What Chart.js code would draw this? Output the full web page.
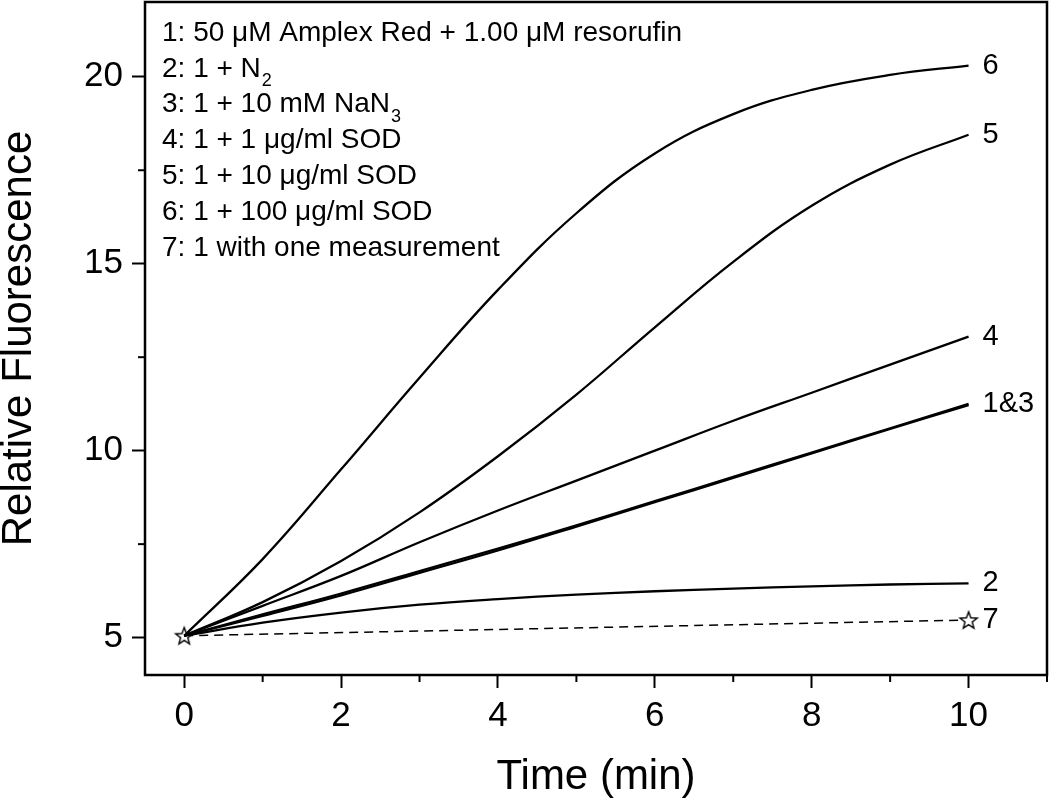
<!DOCTYPE html>
<html>
<head>
<meta charset="utf-8">
<script src="https://cdn.jsdelivr.net/npm/chart.js@4"></script>
<style>
body { margin: 0; background: #fff; }
</style>
</head>
<body>
<canvas id="myChart" width="1050" height="800"></canvas>
<script>
// time axis (min) and relative fluorescence for each trace
let time_min = [0, 1, 2, 3, 4, 5, 6, 7, 8, 9, 10];
let fl_1 = [5.05, 5.62, 6.18, 6.78, 7.38, 8.00, 8.65, 9.30, 9.95, 10.60, 11.25];
let fl_2 = [5.05, 5.40, 5.67, 5.88, 6.03, 6.15, 6.24, 6.31, 6.37, 6.42, 6.45];
let fl_3 = [5.05, 5.58, 6.13, 6.73, 7.33, 7.97, 8.62, 9.27, 9.93, 10.58, 11.22];
let fl_4 = [5.05, 5.85, 6.65, 7.55, 8.40, 9.20, 10.00, 10.80, 11.55, 12.30, 13.05];
let fl_5 = [5.05, 5.95, 7.05, 8.35, 9.85, 11.50, 13.30, 15.05, 16.55, 17.65, 18.45];
let fl_6 = [5.05, 7.10, 9.50, 11.95, 14.30, 16.35, 17.95, 19.00, 19.65, 20.05, 20.30];
// trace 7: one measurement at start and end only
let time_7 = [0, 10];
let fl_7 = [5.05, 5.47];

let x_ticks = [0, 2, 4, 6, 8, 10];
let x_minor = [1, 3, 5, 7, 9, 11];
let y_ticks = [5, 10, 15, 20];
let y_minor = [7.5, 12.5, 17.5];

let legend_lines = [
    '1: 50 \u03bcM Amplex Red + 1.00 \u03bcM resorufin',
    '2: 1 + N_2',
    '3: 1 + 10 mM NaN_3',
    '4: 1 + 1 \u03bcg/ml SOD',
    '5: 1 + 10 \u03bcg/ml SOD',
    '6: 1 + 100 \u03bcg/ml SOD',
    '7: 1 with one measurement'
];
let end_labels = [['6', fl_6], ['5', fl_5], ['4', fl_4], ['1&3', fl_1], ['2', fl_2], ['7', fl_7]];

const FONT = "'Liberation Sans', Arial, sans-serif";

function to_points(xs, ys) {
    return xs.map((x, i) => ({ x: x, y: ys[i] }));
}

// outlined five point star used as the marker
function make_star() {
    let c = document.createElement('canvas');
    c.width = 22; c.height = 22;
    let g = c.getContext('2d');
    g.beginPath();
    for (let i = 0; i < 10; i++) {
        let r = (i % 2 == 0) ? 9 : 3.8;
        let a = -Math.PI / 2 + i * Math.PI / 5;
        let px = 11 + r * Math.cos(a), py = 11.8 + r * Math.sin(a);
        if (i == 0) g.moveTo(px, py); else g.lineTo(px, py);
    }
    g.closePath();
    g.fillStyle = '#fff';
    g.fill();
    g.lineWidth = 1.4;
    g.strokeStyle = '#000';
    g.stroke();
    return c;
}

function curve(label, ys) {
    return {
        label: label,
        data: to_points(time_min, ys),
        borderColor: '#000',
        borderWidth: 2.3,
        pointRadius: 0,
        fill: false,
        tension: 0.4
    };
}

function no_pad(s) {
    s.paddingTop = 0; s.paddingBottom = 0; s.paddingLeft = 0; s.paddingRight = 0;
}

const frame_plugin = {
    id: 'frame',
    afterDraw(chart) {
        const ctx = chart.ctx;
        const a = chart.chartArea;
        const xs = chart.scales.x, ys = chart.scales.y;
        ctx.save();
        ctx.strokeStyle = '#000';
        ctx.lineWidth = 2.5;
        ctx.strokeRect(a.left, a.top, a.right - a.left, a.bottom - a.top);

        // minor ticks
        ctx.lineWidth = 2;
        x_minor.forEach(v => {
            let px = xs.getPixelForValue(v);
            ctx.beginPath(); ctx.moveTo(px, a.bottom); ctx.lineTo(px, a.bottom + 7); ctx.stroke();
        });
        y_minor.forEach(v => {
            let py = ys.getPixelForValue(v);
            ctx.beginPath(); ctx.moveTo(a.left, py); ctx.lineTo(a.left - 7, py); ctx.stroke();
        });

        // key text in the top left corner
        ctx.fillStyle = '#000';
        ctx.textBaseline = 'middle';
        ctx.textAlign = 'left';
        legend_lines.forEach((line, i) => {
            let x = a.left + 17;
            let y = a.top + 31 + i * 35.8;
            let parts = line.split('_');
            ctx.font = '28px ' + FONT;
            ctx.fillText(parts[0], x, y);
            if (parts.length > 1) {
                x += ctx.measureText(parts[0]).width;
                ctx.font = '18px ' + FONT;
                ctx.fillText(parts[1], x + 1, y + 12);
            }
        });

        // labels at the end of each trace
        ctx.font = '29px ' + FONT;
        end_labels.forEach(([txt, arr]) => {
            let px = xs.getPixelForValue(10) + 14;
            let py = ys.getPixelForValue(arr[arr.length - 1]);
            ctx.fillText(txt, px, py);
        });
        ctx.restore();
    }
};

let ctx = document.getElementById('myChart');
let chart = new Chart(ctx, {
    type: 'line',
    data: {
        datasets: [
            curve('1', fl_1),
            curve('2', fl_2),
            curve('3', fl_3),
            curve('4', fl_4),
            curve('5', fl_5),
            curve('6', fl_6),
            {
                label: '7',
                data: to_points(time_7, fl_7),
                borderColor: '#000',
                borderWidth: 1.5,
                borderDash: [9, 6],
                pointStyle: make_star(),
                pointRadius: 9,
                fill: false
            }
        ]
    },
    options: {
        responsive: false,
        animation: false,
        layout: { autoPadding: false, padding: { top: 2, right: 3, left: 0, bottom: 0 } },
        plugins: { legend: { display: false }, tooltip: { enabled: false } },
        scales: {
            x: {
                type: 'linear',
                min: -0.5,
                max: 11,
                afterBuildTicks: s => { s.ticks = x_ticks.map(v => ({ value: v })); },
                afterFit: s => { s.height = 125; no_pad(s); },
                grid: { drawOnChartArea: false, tickLength: 13, tickWidth: 2, tickColor: '#000' },
                border: { display: false },
                ticks: { color: '#000', font: { family: FONT, size: 35, lineHeight: 1.2 }, padding: 7, maxRotation: 0, autoSkip: false },
                title: { display: true, text: 'Time (min)', color: '#000', font: { family: FONT, size: 42, lineHeight: 1 }, padding: { top: 0, bottom: 2 } }
            },
            y: {
                min: 4,
                max: 22,
                afterBuildTicks: s => { s.ticks = y_ticks.map(v => ({ value: v })); },
                afterFit: s => { s.width = 145; no_pad(s); },
                grid: { drawOnChartArea: false, tickLength: 13, tickWidth: 2, tickColor: '#000' },
                border: { display: false },
                ticks: { color: '#000', font: { family: FONT, size: 35 }, padding: 9, autoSkip: false },
                title: { display: true, text: 'Relative Fluorescence', color: '#000', font: { family: FONT, size: 42, lineHeight: 1 }, padding: { top: -2, bottom: 0 } }
            }
        }
    },
    plugins: [frame_plugin]
});
</script>
</body>
</html>
